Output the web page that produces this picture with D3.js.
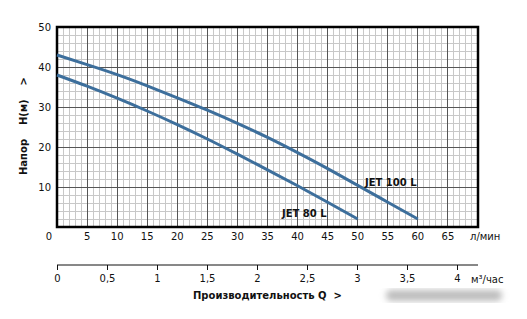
<!DOCTYPE html>
<html lang="ru">
<head>
<meta charset="UTF-8">
<title>JET pumps</title>
<script src="https://cdn.jsdelivr.net/npm/d3@7"></script>
<style>
  body { margin: 0; background: #fff; }
  text { font-family: "DejaVu Sans", Verdana, sans-serif; font-size: 10px; fill: #111; }
  .b { font-weight: bold; }
</style>
</head>
<body>
<div id="chart"></div>
<script>
// данные
var flowLmin = [0, 5, 10, 15, 20, 25, 30, 35, 40, 45, 50, 55, 60];
var jet100 = [43, 40.6, 38.1, 35.3, 32.3, 29.2, 25.9, 22.4, 18.6, 14.6, 10.4, 6.2, 2];
var flow80 = [0, 5, 10, 15, 20, 25, 30, 35, 40, 45, 50];
var jet80 = [38, 35.2, 32.2, 29.0, 25.6, 22.0, 18.2, 14.3, 10.3, 6.2, 2];
var xTicks = [0, 5, 10, 15, 20, 25, 30, 35, 40, 45, 50, 55, 60, 65];
var yTicks = [10, 20, 30, 40, 50];
var qTicks = [0, 0.5, 1, 1.5, 2, 2.5, 3, 3.5, 4];

var width = 527, height = 319;
var svg = d3.select("#chart").append("svg")
    .attr("width", width).attr("height", height);

var x = d3.scaleLinear().domain([0, 70]).range([57, 478]);
var y = d3.scaleLinear().domain([0, 50]).range([227, 27]);
var q = d3.scaleLinear().domain([0, 1]).range([57, 157]);

// сетка
var minorX = d3.range(1, 70, 1).filter(function (d) { return d % 5 != 0; });
var minorY = d3.range(2, 50, 2).filter(function (d) { return d % 10 != 0; });
svg.append("g").selectAll("line").data(minorX).enter().append("line")
    .attr("x1", d => x(d)).attr("x2", d => x(d)).attr("y1", y(0)).attr("y2", y(50))
    .attr("stroke", "#c8c8c8").attr("stroke-width", 1).attr("shape-rendering", "crispEdges");
svg.append("g").selectAll("line").data(minorY).enter().append("line")
    .attr("y1", d => y(d)).attr("y2", d => y(d)).attr("x1", x(0)).attr("x2", x(70))
    .attr("stroke", "#c8c8c8").attr("stroke-width", 1).attr("shape-rendering", "crispEdges");
svg.append("g").selectAll("line").data(xTicks.slice(1)).enter().append("line")
    .attr("x1", d => x(d)).attr("x2", d => x(d)).attr("y1", y(0)).attr("y2", y(50))
    .attr("stroke", "#555").attr("stroke-width", 1).attr("shape-rendering", "crispEdges");
svg.append("g").selectAll("line").data(yTicks.slice(0, -1)).enter().append("line")
    .attr("y1", d => y(d)).attr("y2", d => y(d)).attr("x1", x(0)).attr("x2", x(70))
    .attr("stroke", "#555").attr("stroke-width", 1).attr("shape-rendering", "crispEdges");

// рамка
svg.append("rect")
    .attr("x", x(0)).attr("y", y(50))
    .attr("width", x(70) - x(0)).attr("height", y(0) - y(50))
    .attr("fill", "none").attr("stroke", "#000").attr("stroke-width", 2.5);

// кривые
var line = d3.line().curve(d3.curveNatural);
svg.append("path")
    .attr("d", line(flowLmin.map((d, i) => [x(d), y(jet100[i])])))
    .attr("fill", "none").attr("stroke", "#3d6f9c").attr("stroke-width", 3);
svg.append("path")
    .attr("d", line(flow80.map((d, i) => [x(d), y(jet80[i])])))
    .attr("fill", "none").attr("stroke", "#3d6f9c").attr("stroke-width", 3);

svg.append("text").attr("class", "b").attr("x", 282).attr("y", 217).text("JET 80 L");
svg.append("text").attr("class", "b").attr("x", 365).attr("y", 186).text("JET 100 L");

// подписи осей
svg.append("g").selectAll("text").data(xTicks).enter().append("text")
    .attr("x", d => d == 0 ? x(d) - 8 : x(d)).attr("y", 240)
    .attr("text-anchor", "middle").text(d => d);
svg.append("text").attr("x", 470).attr("y", 240).text("л/мин");
svg.append("g").selectAll("text").data(yTicks).enter().append("text")
    .attr("x", 51).attr("y", d => y(d) + 4)
    .attr("text-anchor", "end").text(d => d);

svg.append("text").attr("class", "b")
    .attr("transform", "translate(27,175) rotate(-90)")
    .style("white-space", "pre")
    .text("Напор    H(м)    >");

// ось в м³/час
var qAxis = d3.axisBottom(q).tickValues(qTicks).tickSize(5)
    .tickFormat(d => String(d).replace(".", ","));
var gq = svg.append("g").attr("transform", "translate(0,265)").call(qAxis);
gq.select(".domain").attr("d", "M57,0H478").attr("stroke", "#111");
gq.selectAll(".tick line").attr("stroke", "#111");
gq.selectAll(".tick text").attr("dy", "0.9em").style("font-size", "10px")
    .style("font-family", "'DejaVu Sans', Verdana, sans-serif").attr("fill", "#111");
svg.append("text").attr("x", 471).attr("y", 283).text("м³/час");

svg.append("text").attr("class", "b").attr("x", 193).attr("y", 299)
    .style("white-space", "pre").text("Производительность Q  >");

// размытый водяной знак
var defs = svg.append("defs");
defs.append("filter").attr("id", "blur").append("feGaussianBlur").attr("stdDeviation", 3);
svg.append("rect").attr("x", 386).attr("y", 290).attr("width", 116).attr("height", 11)
    .attr("rx", 5).attr("fill", "#bdbdbd").attr("filter", "url(#blur)");
</script>
</body>
</html>
